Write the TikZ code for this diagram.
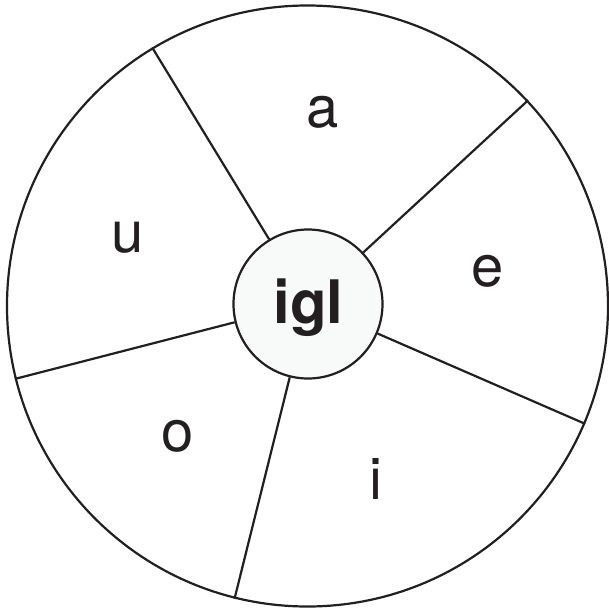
\documentclass[tikz,border=0pt]{standalone}
\usepackage{fontspec}
\setmainfont{TeX Gyre Heros}
\definecolor{ink}{RGB}{35,31,32}
\definecolor{hub}{RGB}{248,250,250}
\tikzset{
  rim/.style={circle, draw=ink, line width=2.2pt, inner sep=0pt, minimum size=601pt},
  hubnode/.style={circle, draw=ink, fill=hub, line width=2.2pt, inner sep=0pt, minimum size=149pt,
    font=\fontsize{60}{60}\selectfont\bfseries, text=ink},
  spoke/.style={draw=ink, line width=2.2pt},
  vowel/.style={anchor=base, inner sep=0pt, text=ink, font=\fontsize{58}{58}\selectfont}
}
\begin{document}
\begin{tikzpicture}[x=1pt,y=-1pt]
\useasboundingbox (0,0) rectangle (609,613);
\node[rim] (outer) at (307.5,306) {};
\node[hubnode] (c) at (308,304) {};
\node[anchor=base, inner sep=0pt, text=ink, font=\fontsize{60}{60}\selectfont\bfseries] (igl) at (308.5,323) {igl};
\draw[spoke] (c.121.6) -- (outer.121.6);
\draw[spoke] (c.43.8) -- (outer.43.8);
\draw[spoke] (c.-23.1) -- (outer.-23.1);
\draw[spoke] (c.-104.5) -- (outer.-104.5);
\draw[spoke] (c.194.4) -- (outer.194.4);
\node[vowel] (a) at (323,127) {a};
\node[vowel] (e) at (487.5,286) {e};
\node[vowel] (i) at (375.5,499) {i};
\node[vowel] (o) at (178,451) {o};
\node[vowel] (u) at (128,252) {u};
\end{tikzpicture}
\end{document}
